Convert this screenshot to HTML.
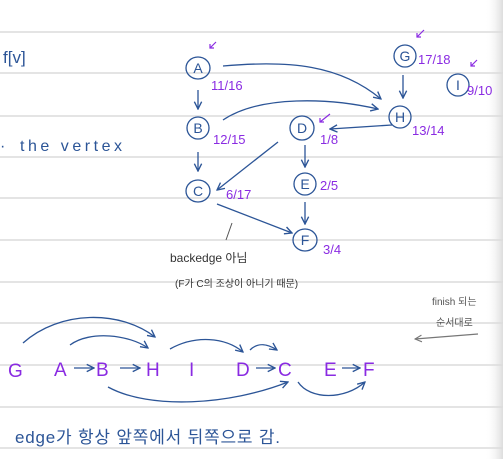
<!DOCTYPE html>
<html><head><meta charset="utf-8"><style>
html,body{margin:0;padding:0;background:#fff;width:503px;height:459px;overflow:hidden}
svg{display:block}
text{font-family:"Liberation Sans","Noto Sans CJK KR",sans-serif}
</style></head><body>
<svg width="503" height="459" viewBox="0 0 503 459" xmlns="http://www.w3.org/2000/svg">
<defs>
<linearGradient id="edge" x1="0" x2="1"><stop offset="0" stop-color="#fff" stop-opacity="0"/><stop offset="1" stop-color="#ddd"/></linearGradient>
<marker id="ah" viewBox="0 0 10 10" refX="9" refY="5" markerWidth="7" markerHeight="7" orient="auto-start-reverse"><path d="M1,1 L9,5 L1,9" fill="none" stroke="#2c5597" stroke-width="1.5"/></marker>
<marker id="ag" viewBox="0 0 10 10" refX="9" refY="5" markerWidth="7" markerHeight="7" orient="auto-start-reverse"><path d="M1,1 L9,5 L1,9" fill="none" stroke="#777" stroke-width="1.3"/></marker>
</defs>
<rect x="485" y="0" width="18" height="459" fill="url(#edge)"/>
<g stroke="#dcdcdc" stroke-width="1.5">
<line x1="0" y1="32" x2="503" y2="32"/><line x1="0" y1="73" x2="503" y2="73"/>
<line x1="0" y1="116" x2="503" y2="116"/><line x1="0" y1="157" x2="503" y2="157"/>
<line x1="0" y1="198" x2="503" y2="198"/><line x1="0" y1="240" x2="503" y2="240"/>
<line x1="0" y1="282" x2="503" y2="282"/><line x1="0" y1="323" x2="503" y2="323"/>
<line x1="0" y1="365" x2="503" y2="365"/><line x1="0" y1="407" x2="503" y2="407"/>
<line x1="0" y1="448" x2="503" y2="448"/>
</g>
<g fill="#2c5597">
<text x="3" y="63" font-size="17">f[v]</text>
<text x="0" y="151" font-size="16">·</text>
<text x="20" y="151" font-size="16" textLength="102">the   vertex</text>
</g>
<g fill="none" stroke="#2c5597" stroke-width="1.3">
<ellipse cx="198" cy="68" rx="12" ry="11"/><ellipse cx="198" cy="128" rx="11" ry="11"/>
<ellipse cx="198" cy="191" rx="12" ry="11"/><ellipse cx="302" cy="128" rx="12" ry="12"/>
<ellipse cx="305" cy="184" rx="11" ry="11"/><ellipse cx="305" cy="240" rx="12" ry="11"/>
<ellipse cx="405" cy="56" rx="11" ry="11"/><ellipse cx="400" cy="117" rx="11" ry="11"/>
<ellipse cx="458" cy="85" rx="11" ry="11"/>
</g>
<g fill="#2c5597" font-size="14" text-anchor="middle">
<text x="198" y="73">A</text><text x="198" y="133">B</text><text x="198" y="196">C</text>
<text x="302" y="133">D</text><text x="305" y="189">E</text><text x="305" y="245">F</text>
<text x="405" y="61">G</text><text x="400" y="122">H</text><text x="458" y="90">I</text>
</g>
<g fill="#8a2be2" font-size="13">
<text x="211" y="90">11/16</text><text x="213" y="144">12/15</text><text x="226" y="199">6/17</text>
<text x="320" y="144">1/8</text><text x="320" y="190">2/5</text><text x="323" y="254">3/4</text>
<text x="418" y="64">17/18</text><text x="467" y="95">9/10</text><text x="412" y="135">13/14</text>
</g>
<g stroke="#8a2be2" stroke-width="1.2" fill="none">
<path d="M216,42 L210,48 M210,44 L210,48 L214,48"/>
<path d="M424,30 L417,37 M417,33 L417,37 L421,37"/>
<path d="M477,60 L471,66 M471,62 L471,66 L475,66"/>
<path d="M330,114 L320,122 M320,118 L320,122 L324,122"/>
</g>
<g fill="none" stroke="#2c5597" stroke-width="1.3" marker-end="url(#ah)">
<path d="M223,66 C290,60 340,65 381,99"/>
<path d="M223,120 C260,95 330,98 378,109"/>
<path d="M392,125 L330,129"/>
<path d="M278,142 L217,190"/>
<path d="M198,90 L198,109"/><path d="M198,152 L198,171"/>
<path d="M305,145 L305,167"/><path d="M305,202 L305,224"/>
<path d="M403,75 L403,98"/>
<path d="M217,204 L292,233"/>
</g>
<line x1="232" y1="223" x2="226" y2="240" stroke="#555" stroke-width="1"/>
<text x="170" y="262" font-size="12" fill="#333">backedge 아님</text>
<text x="175" y="287" font-size="10" fill="#333">(F가 C의 조상이 아니기 때문)</text>
<g fill="#8a2be2" font-size="19">
<text x="8" y="377">G</text><text x="54" y="376">A</text><text x="96" y="376">B</text>
<text x="146" y="376">H</text><text x="189" y="376">I</text><text x="236" y="376">D</text>
<text x="278" y="376">C</text><text x="324" y="376">E</text><text x="363" y="376">F</text>
</g>
<g fill="none" stroke="#2c5597" stroke-width="1.3" marker-end="url(#ah)">
<path d="M74,368 L94,368"/><path d="M120,368 L140,368"/>
<path d="M256,368 L275,368"/><path d="M342,368 L360,368"/>
<path d="M23,343 C60,310 120,310 155,337"/>
<path d="M70,345 C90,330 130,335 148,348"/>
<path d="M170,349 C195,335 225,337 243,352"/>
<path d="M250,350 C258,342 268,344 277,350"/>
<path d="M108,387 C150,410 230,405 288,382"/>
<path d="M298,382 C310,400 345,400 365,382"/>
</g>
<text x="432" y="305" font-size="10" fill="#555">finish 되는</text>
<text x="436" y="326" font-size="10" fill="#555">순서대로</text>
<path d="M478,334 L415,339" stroke="#777" stroke-width="1.2" fill="none" marker-end="url(#ag)"/>
<text x="15" y="443" font-size="17" fill="#2c5597" textLength="265">edge가  항상   앞쪽에서   뒤쪽으로  감.</text>
</svg>
</body></html>
